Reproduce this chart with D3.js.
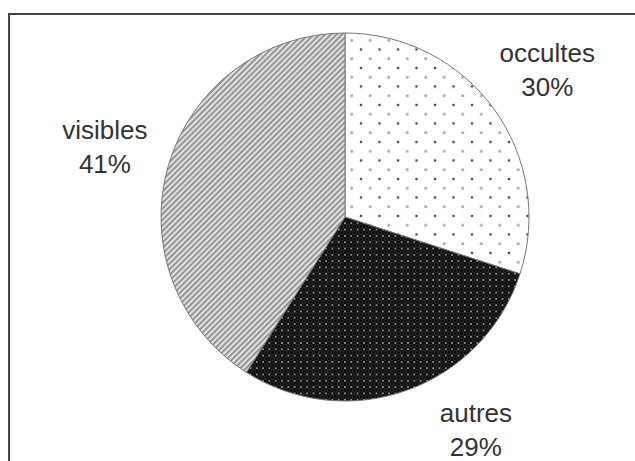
<!DOCTYPE html>
<html><head><meta charset="utf-8">
<script src="https://cdn.jsdelivr.net/npm/d3@7"></script>
<style>html,body{margin:0;padding:0;background:#fff;}svg{display:block;}</style>
</head><body>
<script>
const categories = ["occultes", "autres", "visibles"];
const values = [30, 29, 41];
const patternIds = ["pOcc", "pAut", "pVis"];

const W = 635, H = 461;
const cx = 345, cy = 217, R = 184, labelR = 250;

const svg = d3.select("body").append("svg").attr("width", W).attr("height", H);
const defs = svg.append("defs");

// dotted pattern (occultes)
const p1 = defs.append("pattern").attr("id", "pOcc").attr("patternUnits", "userSpaceOnUse")
  .attr("width", 18.5).attr("height", 18.5).attr("x", cx).attr("y", cy);
p1.append("rect").attr("width", 18.5).attr("height", 18.5).attr("fill", "#fff");
p1.append("circle").attr("cx", 4).attr("cy", 4).attr("r", 1.3).attr("fill", "#444");
p1.append("circle").attr("cx", 13.25).attr("cy", 13.25).attr("r", 1.5).attr("fill", "#aaa");

// dark pattern (autres)
const p2 = defs.append("pattern").attr("id", "pAut").attr("patternUnits", "userSpaceOnUse")
  .attr("width", 6.3).attr("height", 6.3);
p2.append("rect").attr("width", 6.3).attr("height", 6.3).attr("fill", "#080808");
p2.append("circle").attr("cx", 3.15).attr("cy", 3.15).attr("r", 2).attr("fill", "none")
  .attr("stroke", "#444").attr("stroke-width", 0.7);
[[0,0],[6.3,0],[0,6.3],[6.3,6.3]].forEach(([x, y]) =>
  p2.append("circle").attr("cx", x).attr("cy", y).attr("r", 0.8).attr("fill", "#ddd"));

// hatch pattern (visibles)
const p3 = defs.append("pattern").attr("id", "pVis").attr("patternUnits", "userSpaceOnUse")
  .attr("width", 4).attr("height", 4).attr("patternTransform", "rotate(45)");
p3.append("rect").attr("width", 4).attr("height", 4).attr("fill", "#e2e2e2");
p3.append("rect").attr("width", 1.8).attr("height", 4).attr("fill", "#8c8c8c");

// frame (top and left visible, rest cropped)
svg.append("rect").attr("x", 9).attr("y", 14).attr("width", 640).attr("height", 460)
  .attr("fill", "none").attr("stroke", "#444").attr("stroke-width", 2);

const data = categories.map((c, i) => ({ cat: c, value: values[i], pat: patternIds[i] }));
const pie = d3.pie().value(d => d.value).sort(null);
const arc = d3.arc().innerRadius(0).outerRadius(R);
const arcs = pie(data);

const g = svg.append("g").attr("transform", `translate(${cx},${cy})`);
g.selectAll("path").data(arcs).join("path")
  .attr("d", arc)
  .attr("fill", d => `url(#${d.data.pat})`)
  .attr("stroke", "#777").attr("stroke-width", 1);

// labels: placed outward along mid-angle, kept inside the chart area
const fontSize = 26, lineH = 34, blockHalf = 31;
arcs.forEach(a => {
  let ang = (a.startAngle + a.endAngle) / 2;
  let x = labelR * Math.sin(ang), y = -labelR * Math.cos(ang);
  const maxY = H - cy - blockHalf;
  if (y > maxY) {
    const c = -maxY / labelR;
    ang = ang < Math.PI ? Math.acos(c) : 2 * Math.PI - Math.acos(c);
    x = labelR * Math.sin(ang); y = -labelR * Math.cos(ang);
  }
  const t = g.append("text")
    .attr("text-anchor", "middle")
    .attr("font-family", "Liberation Sans, Arial, sans-serif")
    .attr("font-size", fontSize).attr("fill", "#333");
  t.append("tspan").attr("x", x).attr("y", y - lineH / 2 + fontSize * 0.35).text(a.data.cat);
  t.append("tspan").attr("x", x).attr("y", y + lineH / 2 + fontSize * 0.35).text(a.data.value + "%");
});
</script>
</body></html>
